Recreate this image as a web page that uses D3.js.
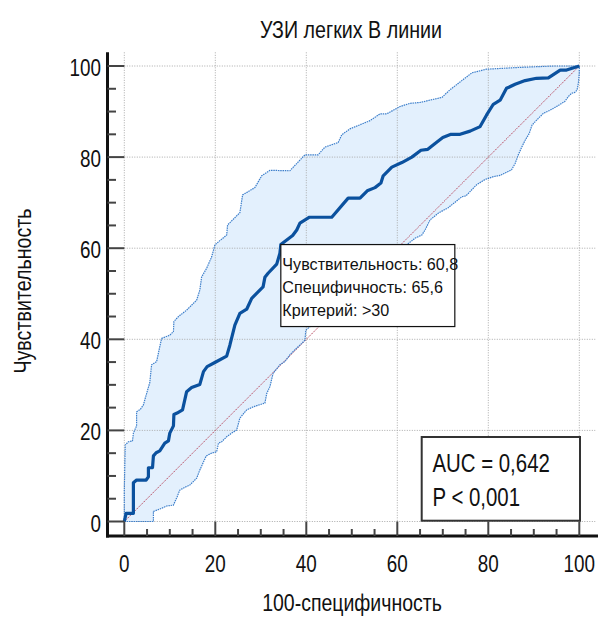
<!DOCTYPE html>
<html>
<head>
<meta charset="utf-8">
<script src="https://cdn.jsdelivr.net/npm/d3@7"></script>
<style>
  html, body { margin: 0; padding: 0; background: #fff; }
  svg { display: block; }
  text { font-family: "Liberation Sans", Arial, sans-serif; fill: #111; }
</style>
</head>
<body>
<svg id="chart" width="598" height="617"></svg>
<script>
// ROC curve: [100 - specificity, sensitivity], in %
const rocCurve = [[0,0],[0.4,1.8],[2.0,1.8],[2.0,8.5],[2.7,9.1],[4.8,9.1],[5.3,9.8],[5.3,11.8],[6.2,11.8],[6.4,14.4],[7.0,15.1],[7.8,15.5],[8.9,17.2],[9.7,17.7],[10.0,19.4],[10.8,21.0],[10.9,23.5],[11.6,23.8],[12.8,24.5],[13.7,28.5],[14.8,29.4],[16.6,30.1],[17.4,32.9],[18.2,34.0],[19.9,34.9],[22.5,36.3],[23.2,38.7],[24.3,43.1],[25.4,45.7],[26.9,46.6],[28.0,49.0],[28.7,49.7],[30.5,51.5],[30.9,53.6],[31.6,54.5],[33.5,56.5],[34.2,58.9],[34.4,60.8],[37.0,62.8],[37.9,64.0],[38.6,65.5],[40.7,66.8],[45.6,66.8],[49.2,71.0],[51.8,71.0],[53.4,72.6],[55.1,73.3],[56.4,74.3],[56.9,75.9],[58.8,77.8],[61.0,78.8],[63.2,80.0],[65.2,81.5],[66.7,81.7],[68.3,83.0],[70.0,84.3],[71.8,85.0],[73.8,85.0],[76.0,85.7],[78.2,86.7],[79.6,89.2],[81.1,91.6],[82.6,92.5],[84.0,95.1],[85.9,96.0],[88.1,96.8],[90.6,97.3],[93.2,97.4],[95.8,99.1],[97.2,99.1],[100,100]];

// 95% confidence band, upper bound
const ciUpper = [[0,0],[0,6.9],[0.2,16.8],[0.9,17.5],[1.8,17.7],[2.0,19.4],[2.7,21.0],[2.7,24.1],[3.5,24.6],[4.2,25.6],[4.7,27.4],[5.6,30.5],[6.0,34.4],[7.1,35.1],[7.8,38.4],[8.2,40.2],[10.0,40.9],[10.8,41.7],[10.9,43.9],[11.9,45.0],[13.7,46.4],[15.2,47.9],[15.9,48.6],[16.6,50.8],[17.0,53.7],[18.1,55.6],[19.2,58.1],[19.9,60.7],[20.7,61.4],[22.5,62.9],[22.7,65.1],[25.4,67.8],[26.0,71.7],[28.7,73.3],[30.2,75.9],[32.0,77.1],[36.4,77.0],[39.7,80.5],[42.6,80.5],[44.1,82.2],[47.0,83.2],[47.8,84.9],[49.6,86.2],[54.0,88.0],[56.2,89.5],[57.7,89.5],[60.6,91.1],[62.8,91.8],[65.0,92.0],[69.8,93.1],[71.6,94.8],[73.8,96.5],[76.4,98.5],[79.6,99.3],[87.0,99.7],[94.3,100],[100,100]];

// 95% confidence band, lower bound
const ciLower = [[0,0],[6.4,0],[6.4,2.2],[8.2,2.9],[9.3,3.4],[10.8,3.6],[11.6,5.4],[12.2,6.9],[13.3,7.5],[14.4,8.0],[15.9,9.5],[16.6,11.3],[18.0,14.4],[19.2,15.0],[20.3,15.3],[20.7,17.2],[21.4,17.5],[22.5,18.6],[23.6,19.4],[24.7,20.1],[25.4,22.7],[26.9,24.5],[28.4,25.2],[30.9,26.0],[31.3,28.1],[32.0,29.6],[32.7,32.5],[34.2,34.4],[35.3,35.1],[36.4,36.6],[37.5,37.7],[39.0,39.1],[39.7,39.8],[39.9,42.0],[62.4,61.0],[63.9,62.2],[65.4,62.9],[66.1,64.0],[67.2,66.2],[69.0,67.7],[71.2,68.9],[72.7,70.1],[74.2,71.3],[75.1,71.5],[77.4,73.9],[79.3,75.1],[81.1,75.7],[82.6,76.0],[85.1,77.2],[85.9,78.6],[86.6,80.5],[87.4,82.3],[88.1,83.7],[89.0,85.2],[89.6,87.0],[90.6,88.1],[92.1,89.6],[93.6,90.3],[95.0,91.1],[96.1,91.8],[96.8,92.2],[97.6,93.3],[98.3,94.0],[99.0,94.2],[99.5,94.7],[99.8,96.2],[100,98.4],[100,100]];

const majorTicks = [0, 20, 40, 60, 80, 100];
const minorTicks = d3.range(0, 101, 5).filter(v => v % 20 !== 0);

const titleText = "УЗИ легких В линии";
const xLabel = "100-специфичность";
const yLabel = "Чувствительность";
const cutoffPoint = { sens: 60.8, spec: 65.6, criterion: ">30" };
const aucText = ["AUC = 0,642", "P < 0,001"];

const svg = d3.select("#chart");

const x = d3.scaleLinear().domain([0, 100]).range([124.3, 579.3]);
const y = d3.scaleLinear().domain([0, 100]).range([521.5, 66]);

const axisX = 107.5;   // position of the vertical axis line
const axisY = 536;     // position of the horizontal axis line

const line = d3.line().x(d => x(d[0])).y(d => y(d[1]));

// condensed text: horizontal squeeze around the anchor point
function label(parent, tx, ty, str, size, squeeze, anchor, rotate) {
  return parent.append("text")
    .attr("transform", `translate(${tx},${ty})` + (rotate ? ` rotate(${rotate})` : "") + ` scale(${squeeze},1)`)
    .attr("text-anchor", anchor || "start")
    .attr("font-size", size)
    .text(str);
}

// confidence band fill
const band = ciUpper.concat(ciLower.slice().reverse());
svg.append("path")
  .attr("d", line(band) + "Z")
  .attr("fill", "#e3f0fd")
  .attr("stroke", "none");

// dotted grid
const grid = svg.append("g").attr("stroke", "#a9a9a9").attr("stroke-width", 1).attr("stroke-dasharray", "1,1.5");
grid.selectAll(".gx").data(majorTicks).join("line")
  .attr("x1", d => x(d)).attr("x2", d => x(d))
  .attr("y1", y(103)).attr("y2", y(0));
grid.selectAll(".gy").data(majorTicks).join("line")
  .attr("x1", x(0)).attr("x2", x(103.5))
  .attr("y1", d => y(d)).attr("y2", d => y(d));

// reference diagonal
svg.append("line")
  .attr("x1", x(0)).attr("y1", y(0)).attr("x2", x(100)).attr("y2", y(100))
  .attr("stroke", "#b8485e").attr("stroke-width", 1).attr("stroke-dasharray", "1.5,1");

// confidence band borders
[ciUpper, ciLower].forEach(ci => {
  svg.append("path")
    .attr("d", line(ci))
    .attr("fill", "none")
    .attr("stroke", "#3d7fcb")
    .attr("stroke-width", 1.2)
    .attr("stroke-dasharray", "1.5,0.8");
});

// ROC curve
svg.append("path")
  .attr("d", line(rocCurve))
  .attr("fill", "none")
  .attr("stroke", "#0b519e")
  .attr("stroke-width", 3.2)
  .attr("stroke-linejoin", "round");

// axes
const axes = svg.append("g");
axes.append("line").attr("x1", axisX).attr("x2", axisX).attr("y1", y(103)).attr("y2", axisY + 1.5)
  .attr("stroke", "#111").attr("stroke-width", 3);
axes.append("line").attr("x1", axisX - 1.5).attr("x2", 598).attr("y1", axisY).attr("y2", axisY)
  .attr("stroke", "#111").attr("stroke-width", 3);

axes.selectAll(".ymaj").data(majorTicks).join("line")
  .attr("x1", axisX).attr("x2", x(0)).attr("y1", d => y(d)).attr("y2", d => y(d))
  .attr("stroke", "#444").attr("stroke-width", 2);
axes.selectAll(".ymin").data(minorTicks).join("line")
  .attr("x1", axisX).attr("x2", axisX + 8.5).attr("y1", d => y(d)).attr("y2", d => y(d))
  .attr("stroke", "#444").attr("stroke-width", 2);
axes.selectAll(".xmaj").data(majorTicks).join("line")
  .attr("x1", d => x(d)).attr("x2", d => x(d)).attr("y1", y(0)).attr("y2", axisY)
  .attr("stroke", "#444").attr("stroke-width", 2);
axes.selectAll(".xmin").data(minorTicks).join("line")
  .attr("x1", d => x(d)).attr("x2", d => x(d)).attr("y1", axisY - 7).attr("y2", axisY)
  .attr("stroke", "#444").attr("stroke-width", 2);

majorTicks.forEach(d => {
  label(axes, 101, y(d) + 10, d, 23, 0.82, "end");
  label(axes, x(d), 571.5, d, 23, 0.82, "middle");
});

// titles
label(svg, 351, 38, titleText, 24, 0.82, "middle");
label(svg, 352, 611, xLabel, 23.5, 0.83, "middle");
label(svg, 31, 291, yLabel, 24, 0.82, "middle", -90);

// cut-off annotation box, anchored at the cut-off point
const bx = x(100 - cutoffPoint.spec), by = y(cutoffPoint.sens);
const note = svg.append("g");
note.append("rect").attr("x", bx).attr("y", by).attr("width", 174).attr("height", 82)
  .attr("fill", "#fff").attr("stroke", "#111").attr("stroke-width", 1.2);
const fmt = v => String(v).replace(".", ",");
[
  "Чувствительность: " + fmt(cutoffPoint.sens),
  "Специфичность: " + fmt(cutoffPoint.spec),
  "Критерий: " + cutoffPoint.criterion
].forEach((t, i) => {
  label(note, bx + 1.5, by + 25 + i * 23, t, 17, 0.95, "start");
});

// AUC box
const auc = svg.append("g");
auc.append("rect").attr("x", 421.7).attr("y", 437).attr("width", 158.3).attr("height", 83.7)
  .attr("fill", "#fff").attr("stroke", "#333").attr("stroke-width", 2);
aucText.forEach((t, i) => {
  label(auc, 432.5, 472 + i * 33.5, t, 25.5, 0.8, "start");
});
</script>
</body>
</html>
